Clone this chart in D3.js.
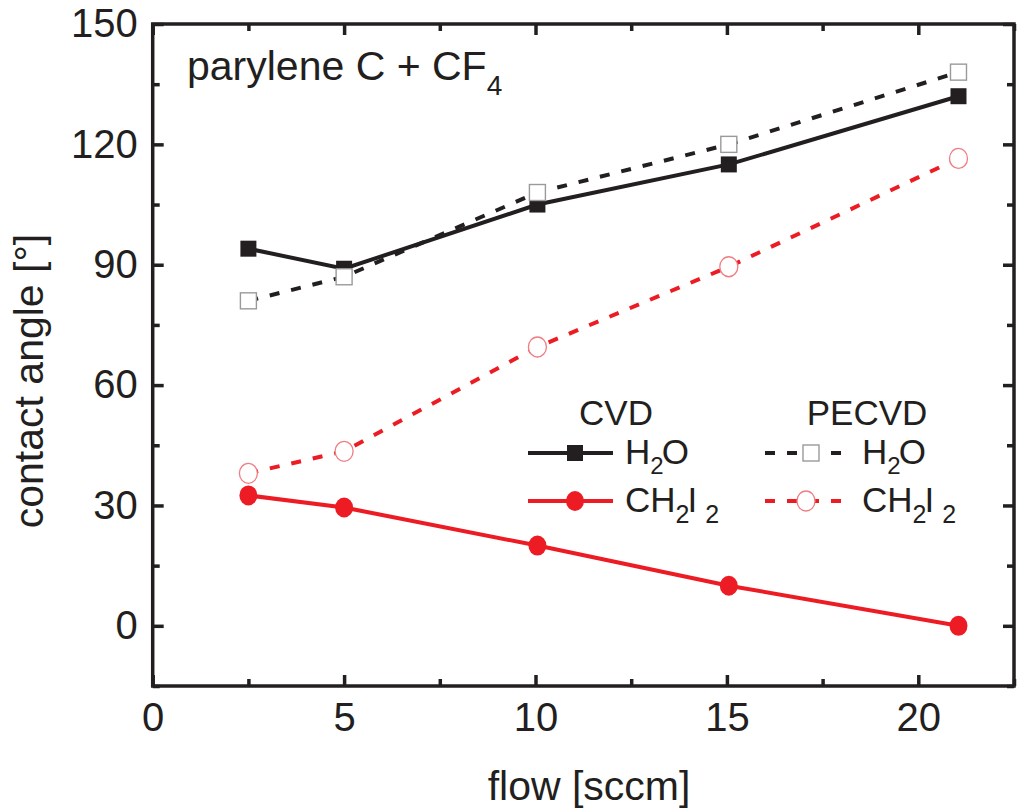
<!DOCTYPE html>
<html>
<head>
<meta charset="utf-8">
<script src="https://cdn.jsdelivr.net/npm/d3@7/dist/d3.min.js"></script>
<style>
  body { margin: 0; background: #fff; }
  svg { display: block; font-family: "Liberation Sans", Arial, sans-serif; }
</style>
</head>
<body>
<div id="chart"></div>
<script>
// flow values (sccm) and contact angles (deg)
const flow = [2.5, 5, 10.05, 15.05, 21.05];
const cvdH2O = [94, 89, 105, 115, 132];
const pecvdH2O = [81, 87, 108, 120, 138];
const cvdCH2I2 = [32.5, 29.5, 20, 10, 0];
const pecvdCH2I2 = [38, 43.5, 69.5, 89.5, 116.5];

const xMajor = [0, 5, 10, 15, 20];
const xMinor = [2.5, 7.5, 12.5, 17.5, 22.5];
const yMajor = [0, 30, 60, 90, 120, 150];
const yMinor = [-15, 15, 45, 75, 105, 135];

const BLACK = '#231f20';
const RED = '#ed1c24';

const width = 1024, height = 811;
const margin = { left: 152.7, right: 10, top: 24, bottom: 125 };
const x0 = margin.left, x1 = width - margin.right;
const y0 = margin.top, y1 = height - margin.bottom;

const x = d3.scaleLinear().domain([0, 22.5]).range([x0, x1]);
const y = d3.scaleLinear().domain([-15, 150]).range([y1, y0]);

const svg = d3.select('#chart').append('svg')
  .attr('width', width)
  .attr('height', height);

// ---- axes ----
function styleAxis(g) {
  g.select('.domain').remove();
  g.selectAll('line').attr('stroke', BLACK).attr('stroke-width', 3.5);
  g.selectAll('text').attr('fill', BLACK).style('font-size', '40px')
    .style('font-family', '"Liberation Sans", Arial, sans-serif');
}

svg.append('g').attr('transform', `translate(0,${y1})`)
  .call(d3.axisBottom(x).tickValues(xMajor).tickSizeInner(-11).tickSizeOuter(0).tickPadding(17).tickFormat(d3.format('d')))
  .call(styleAxis);
svg.append('g').attr('transform', `translate(0,${y1})`)
  .call(d3.axisBottom(x).tickValues(xMinor).tickSizeInner(-7).tickSizeOuter(0).tickFormat(''))
  .call(styleAxis);
svg.append('g').attr('transform', `translate(0,${y0})`)
  .call(d3.axisTop(x).tickValues(xMajor).tickSizeInner(-11).tickSizeOuter(0).tickFormat(''))
  .call(styleAxis);
svg.append('g').attr('transform', `translate(0,${y0})`)
  .call(d3.axisTop(x).tickValues(xMinor).tickSizeInner(-7).tickSizeOuter(0).tickFormat(''))
  .call(styleAxis);

svg.append('g').attr('transform', `translate(${x0},0)`)
  .call(d3.axisLeft(y).tickValues(yMajor).tickSizeInner(-11).tickSizeOuter(0).tickPadding(15).tickFormat(d3.format('d')))
  .call(styleAxis);
svg.append('g').attr('transform', `translate(${x0},0)`)
  .call(d3.axisLeft(y).tickValues(yMinor).tickSizeInner(-7).tickSizeOuter(0).tickFormat(''))
  .call(styleAxis);
svg.append('g').attr('transform', `translate(${x1},0)`)
  .call(d3.axisRight(y).tickValues(yMajor).tickSizeInner(-11).tickSizeOuter(0).tickFormat(''))
  .call(styleAxis);
svg.append('g').attr('transform', `translate(${x1},0)`)
  .call(d3.axisRight(y).tickValues(yMinor).tickSizeInner(-7).tickSizeOuter(0).tickFormat(''))
  .call(styleAxis);

// frame
svg.append('rect')
  .attr('x', x0).attr('y', y0)
  .attr('width', x1 - x0).attr('height', y1 - y0)
  .attr('fill', 'none')
  .attr('stroke', BLACK)
  .attr('stroke-width', 3.5);

// axis titles
svg.append('text')
  .attr('x', 589).attr('y', 800)
  .attr('text-anchor', 'middle')
  .attr('fill', BLACK)
  .style('font-size', '41px')
  .text('flow [sccm]');

svg.append('text')
  .attr('transform', 'translate(43,381) rotate(-90)')
  .attr('text-anchor', 'middle')
  .attr('fill', BLACK)
  .style('font-size', '41px')
  .text('contact angle [°]');

// annotation
const note = svg.append('text')
  .attr('x', 187).attr('y', 80)
  .attr('fill', BLACK)
  .style('font-size', '41px');
note.append('tspan').text('parylene C + CF');
note.append('tspan').attr('dy', 15).style('font-size', '28px').text('4');

// ---- series ----
const line = d3.line().x(d => x(d[0])).y(d => y(d[1]));
const pts = vals => flow.map((f, i) => [f, vals[i]]);

const series = [
  { vals: cvdH2O, color: BLACK, dash: null, marker: 'squareFilled' },
  { vals: cvdCH2I2, color: RED, dash: null, marker: 'circleFilled' },
  { vals: pecvdH2O, color: BLACK, dash: '10,12', marker: 'squareOpen' },
  { vals: pecvdCH2I2, color: RED, dash: '10,12', marker: 'circleOpen' }
];

function drawMarker(g, type, cx, cy) {
  if (type === 'squareFilled') {
    g.append('rect').attr('x', cx - 8).attr('y', cy - 8).attr('width', 16).attr('height', 16)
      .attr('fill', BLACK);
  } else if (type === 'squareOpen') {
    g.append('rect').attr('x', cx - 8).attr('y', cy - 8).attr('width', 16).attr('height', 16)
      .attr('fill', '#fff').attr('stroke', '#9a9a9a').attr('stroke-width', 1.4);
  } else if (type === 'circleFilled') {
    g.append('ellipse').attr('cx', cx).attr('cy', cy).attr('rx', 9).attr('ry', 10)
      .attr('fill', RED);
  } else {
    g.append('ellipse').attr('cx', cx).attr('cy', cy).attr('rx', 9).attr('ry', 10)
      .attr('fill', '#fff').attr('stroke', '#f07d82').attr('stroke-width', 1.3);
  }
}

series.forEach(s => {
  svg.append('path')
    .datum(pts(s.vals))
    .attr('d', line)
    .attr('fill', 'none')
    .attr('stroke', s.color)
    .attr('stroke-width', 4)
    .attr('stroke-dasharray', s.dash);
  const g = svg.append('g');
  pts(s.vals).forEach(p => drawMarker(g, s.marker, x(p[0]), y(p[1])));
});

// ---- legend ----
const legend = svg.append('g');
legend.append('text').attr('x', 616).attr('y', 425).attr('text-anchor', 'middle')
  .attr('fill', BLACK).style('font-size', '35px').text('CVD');
legend.append('text').attr('x', 867).attr('y', 425).attr('text-anchor', 'middle')
  .attr('fill', BLACK).style('font-size', '35px').text('PECVD');

const legendRows = [
  { x0: 528, x1: 613, mx: 575, ly: 453, color: BLACK, dash: null, marker: 'squareFilled', tx: 625, label: 'H2O' },
  { x0: 528, x1: 613, mx: 575, ly: 501, color: RED, dash: null, marker: 'circleFilled', tx: 625, label: 'CH2I2' },
  { x0: 765, x1: 845, mx: 811, ly: 453, color: BLACK, dash: '10,12', marker: 'squareOpen', tx: 862, label: 'H2O' },
  { x0: 765, x1: 845, mx: 806, ly: 501, color: RED, dash: '10,12', marker: 'circleOpen', tx: 862, label: 'CH2I2' }
];

legendRows.forEach(r => {
  legend.append('line')
    .attr('x1', r.x0).attr('x2', r.x1).attr('y1', r.ly).attr('y2', r.ly)
    .attr('stroke', r.color).attr('stroke-width', 4)
    .attr('stroke-dasharray', r.dash);
  drawMarker(legend, r.marker, r.mx, r.ly);
  const t = legend.append('text').attr('x', r.tx).attr('y', r.ly + 11)
    .attr('fill', BLACK).style('font-size', '35px');
  if (r.label === 'H2O') {
    t.append('tspan').text('H');
    t.append('tspan').attr('dy', 10).style('font-size', '24px').text('2');
    t.append('tspan').attr('dy', -10).attr('dx', -2).text('O');
  } else {
    t.append('tspan').text('CH');
    t.append('tspan').attr('dy', 11).style('font-size', '25px').text('2');
    t.append('tspan').attr('dy', -11).attr('dx', -2).text('I');
    t.append('tspan').attr('dy', 11).attr('dx', 8).style('font-size', '25px').text('2');
  }
});
</script>
</body>
</html>
